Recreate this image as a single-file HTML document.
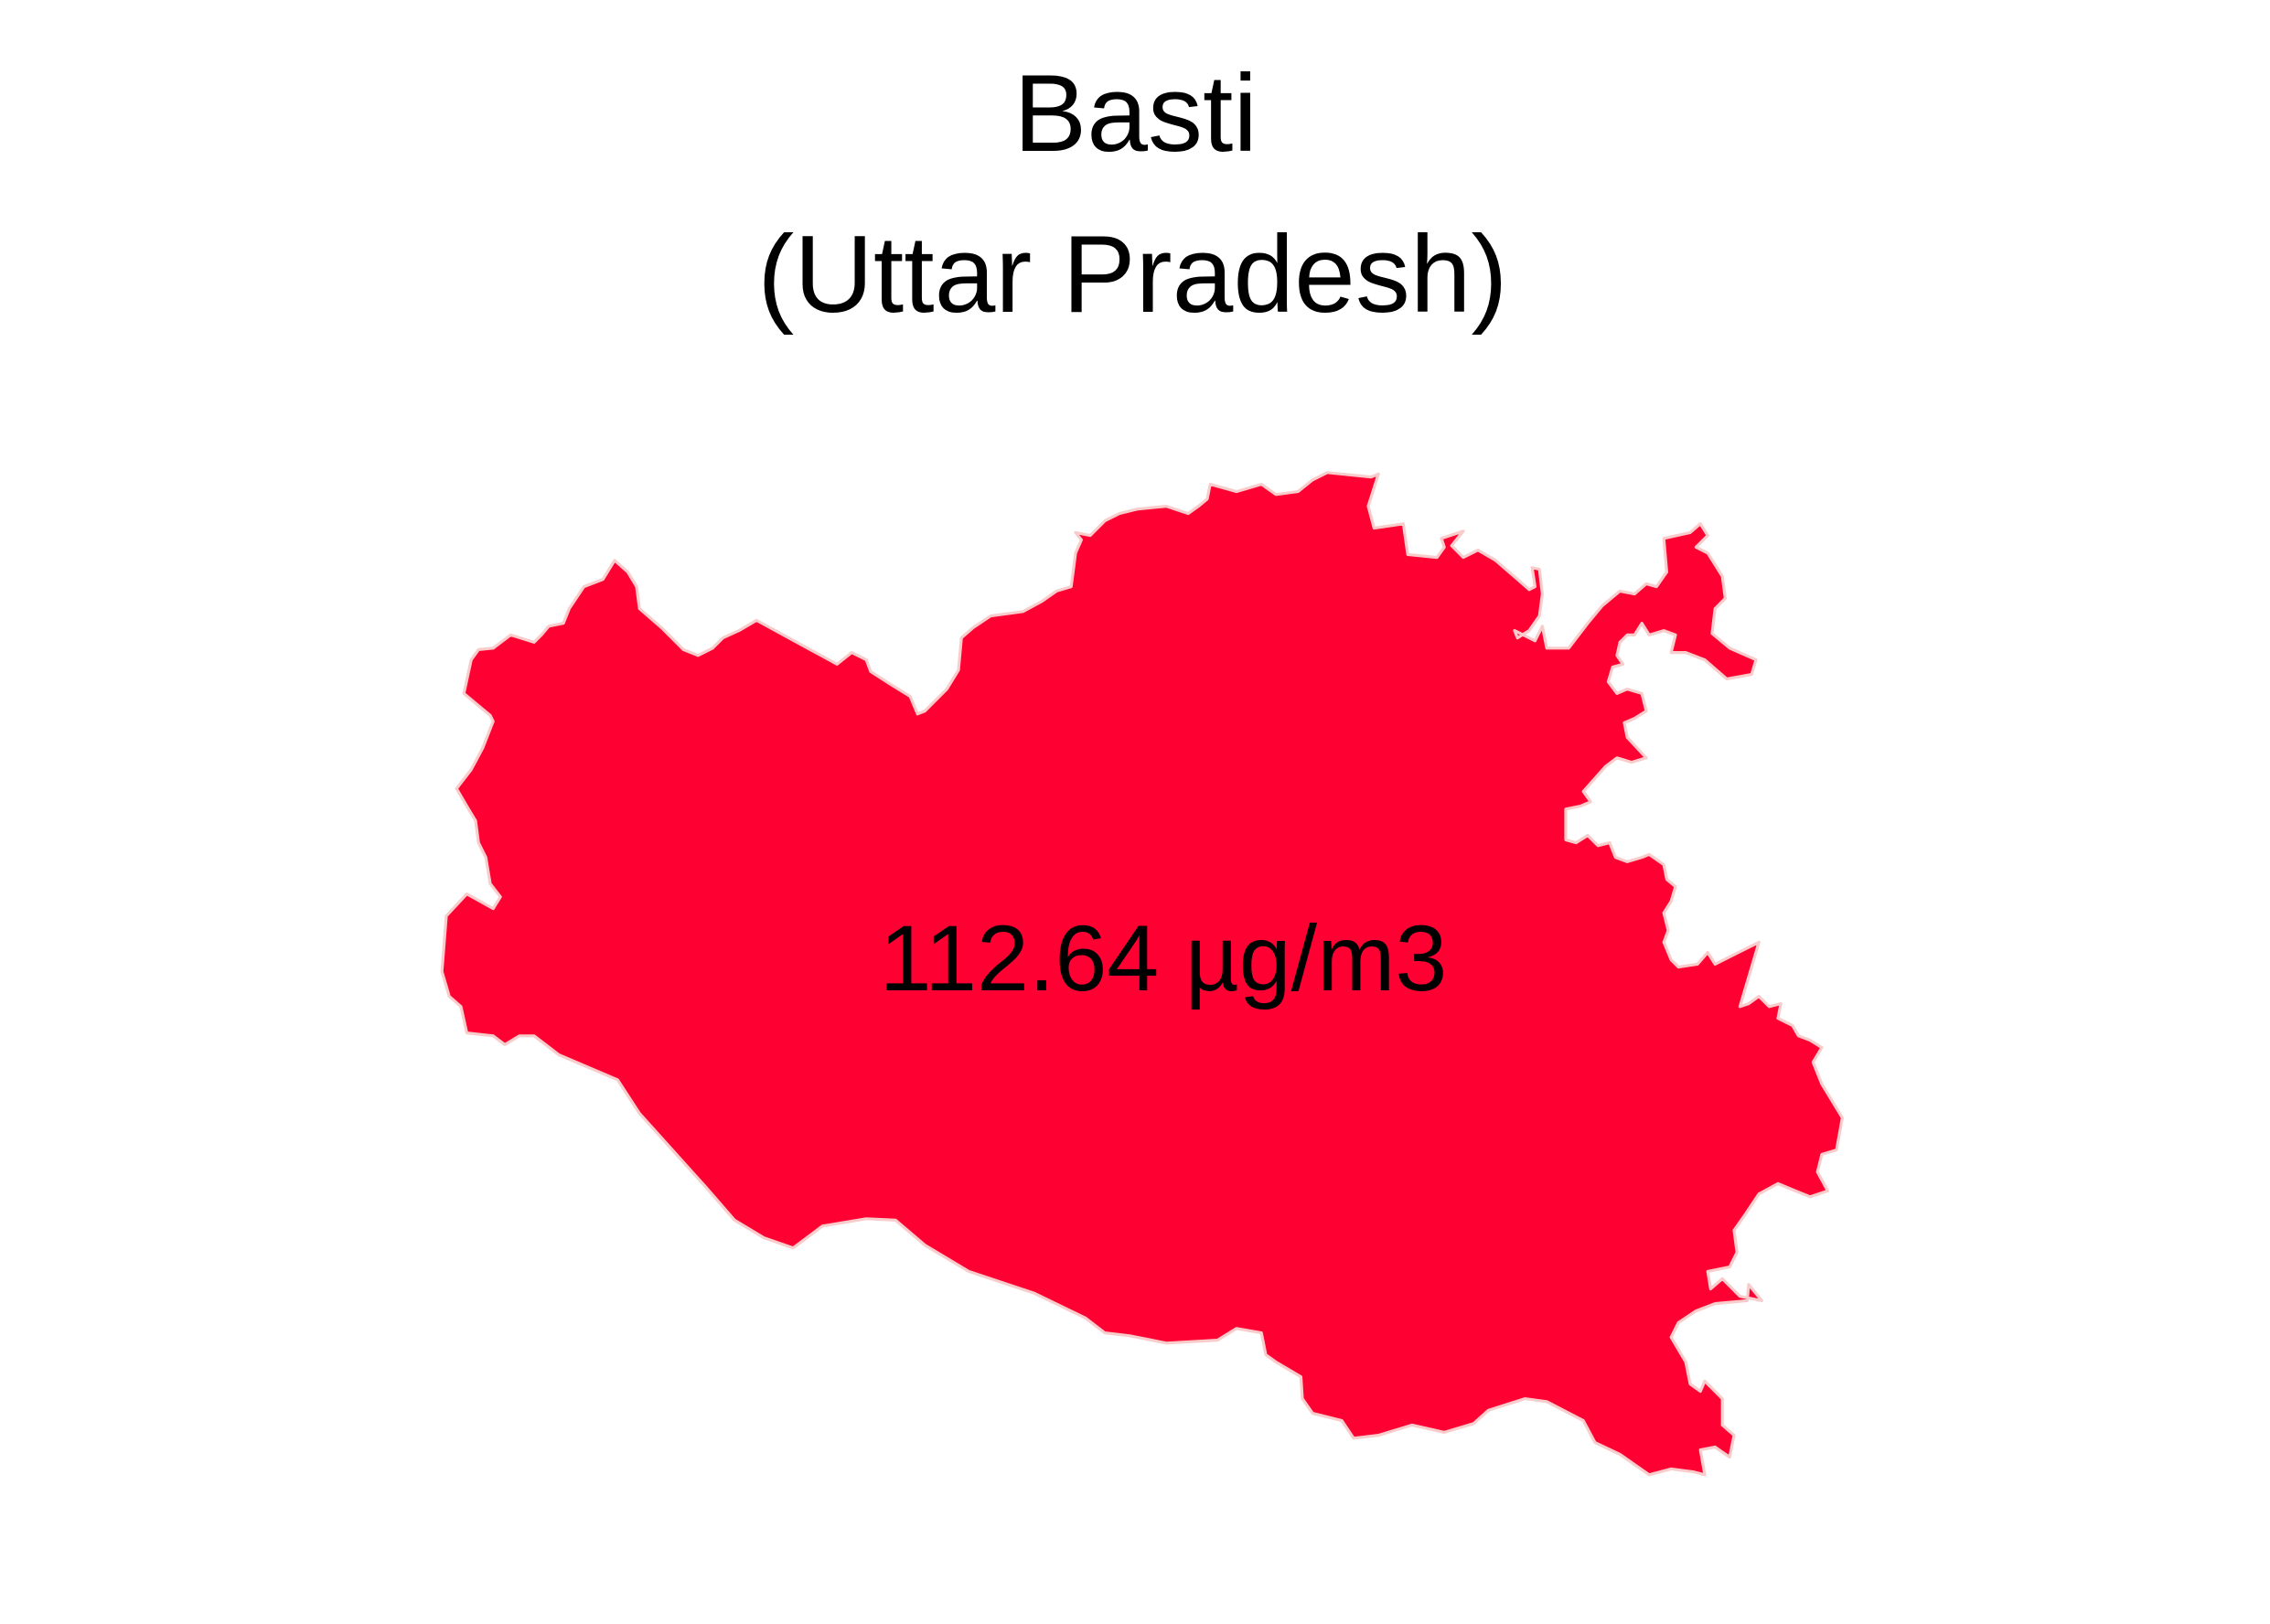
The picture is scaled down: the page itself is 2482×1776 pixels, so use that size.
<!DOCTYPE html>
<html><head><meta charset="utf-8"><style>
html,body{margin:0;padding:0;background:#fff;}
svg{display:block;}
text{font-family:"Liberation Sans",Arial,sans-serif;fill:#000;}
</style></head><body>
<svg id="map" width="2482" height="1776" viewBox="0 0 1551.25 1110" xmlns="http://www.w3.org/2000/svg">
<rect width="1551.25" height="1110" fill="#fff"/>
<text x="776" y="103" font-size="75" text-anchor="middle">Basti</text>
<text x="774" y="213" font-size="75" text-anchor="middle">(Uttar Pradesh)</text>
<g id="shapes" transform="translate(-3,-4)"></g>
<text id="lbl" x="795" y="677" font-size="64" text-anchor="middle"></text>
</svg>
<script>
var districts = ["Basti"];
var pmValues = [112.64];
var units = ["µg/m3"];
var outline = [[910,327],[940,330],[945,328],[938,350],[942,365],[962,362],[965,383],[985,385],[990,378],[988,372],[1003,367],[995,377],[1003,385],[1013,380],[1025,387],[1040,400],[1048,407],[1052,405],[1050,392],[1055,393],[1057,410],[1055,425],[1048,435],[1040,440],[1038,435],[1052,442],[1057,432],[1060,447],[1075,447],[1088,430],[1098,418],[1110,408],[1120,410],[1128,403],[1135,405],[1142,395],[1140,372],[1158,368],[1165,362],[1170,370],[1162,378],[1170,382],[1180,398],[1182,413],[1175,420],[1173,437],[1185,447],[1203,455],[1200,465],[1183,468],[1168,455],[1155,450],[1145,450],[1148,438],[1140,435],[1130,438],[1125,430],[1120,438],[1115,438],[1110,443],[1108,452],[1112,458],[1105,460],[1102,470],[1108,478],[1115,475],[1125,478],[1128,490],[1120,495],[1113,498],[1115,508],[1128,522],[1118,525],[1108,522],[1100,528],[1085,545],[1090,552],[1083,555],[1073,557],[1073,578],[1080,580],[1088,575],[1095,582],[1103,580],[1107,590],[1115,593],[1125,590],[1130,588],[1140,595],[1142,605],[1148,610],[1145,620],[1140,628],[1143,640],[1140,648],[1145,660],[1150,665],[1163,663],[1170,655],[1175,663],[1205,648],[1200,665],[1192,692],[1198,690],[1205,685],[1212,692],[1220,690],[1218,700],[1228,705],[1232,712],[1240,715],[1248,720],[1242,730],[1248,745],[1262,768],[1258,790],[1248,793],[1245,805],[1252,818],[1240,822],[1230,818],[1218,813],[1205,820],[1195,835],[1188,845],[1190,860],[1185,870],[1170,873],[1172,885],[1180,878],[1192,890],[1207,893],[1198,882],[1197,893],[1175,895],[1162,900],[1150,908],[1145,918],[1155,935],[1158,950],[1165,955],[1168,948],[1180,960],[1180,978],[1188,985],[1185,1000],[1175,993],[1165,995],[1168,1012],[1160,1010],[1145,1008],[1130,1012],[1110,998],[1093,990],[1085,975],[1060,962],[1045,960],[1020,968],[1010,977],[990,983],[968,978],[945,985],[928,987],[920,975],[900,970],[893,960],[892,945],[875,935],[868,930],[865,915],[848,912],[835,920],[800,922],[790,920],[775,917],[758,915],[745,905],[710,888],[665,873],[635,855],[615,838],[595,837],[565,842],[545,857],[525,850],[505,838],[485,815],[458,785],[440,765],[425,742],[385,725],[368,712],[358,712],[348,718],[340,712],[322,710],[318,692],[310,685],[305,668],[308,630],[322,615],[340,625],[345,617],[338,608],[335,590],[330,580],[328,565],[322,555],[315,543],[325,530],[333,515],[340,497],[338,493],[320,478],[325,455],[330,448],[340,447],[352,438],[368,443],[373,438],[378,432],[388,430],[392,420],[402,405],[415,400],[423,387],[432,395],[438,405],[440,420],[455,433],[470,448],[480,452],[490,447],[497,440],[508,435],[520,428],[575,458],[585,450],[595,455],[598,463],[612,472],[625,480],[630,492],[635,490],[650,475],[658,462],[660,440],[668,433],[680,425],[702,422],[715,415],[725,408],[735,405],[737,390],[738,382],[742,373],[738,368],[748,370],[758,360],[768,355],[780,352],[800,350],[815,355],[822,350],[828,345],[830,335],[848,340],[865,335],[875,342],[890,340],[900,332]];
var g = document.getElementById('shapes');
var p = document.createElementNS('http://www.w3.org/2000/svg','path');
p.setAttribute('d','M'+outline.map(function(q){return q[0]+','+q[1];}).join('L')+'Z');
p.setAttribute('fill','#FF0033');
p.setAttribute('stroke','#f9cccc');
p.setAttribute('stroke-width','2');
p.setAttribute('stroke-linejoin','round');


g.appendChild(p);
document.getElementById('lbl').textContent = pmValues[0].toFixed(2) + ' ' + units[0];
</script>
</body></html>
